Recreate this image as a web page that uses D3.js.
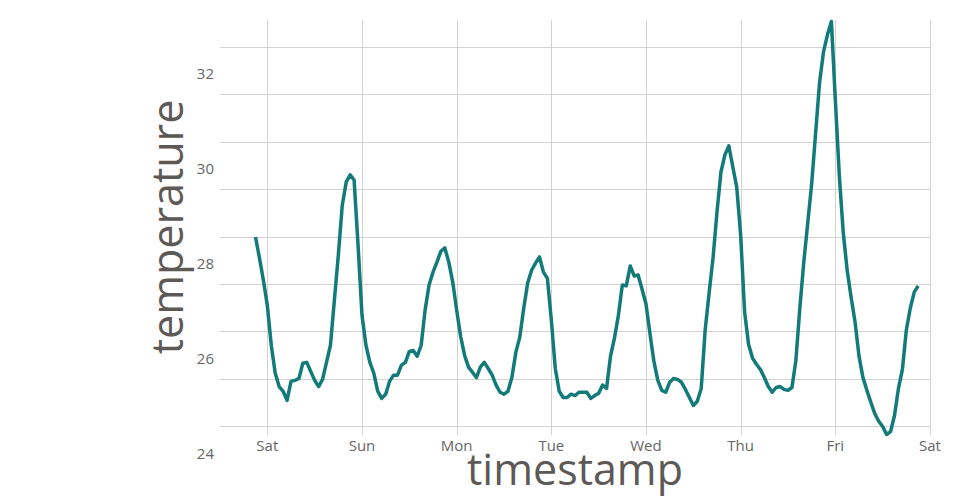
<!DOCTYPE html>
<html>
<head>
<meta charset="utf-8">
<script src="https://cdn.jsdelivr.net/npm/d3@7"></script>
<style>
  body { margin: 0; background: #fff; }
  svg { display: block; font-family: 'Open Sans', sans-serif; }
</style>
</head>
<body>
<div id="chart"></div>
<script>
// Hourly readings, first one on Friday 21:00
var startTime = new Date(2021, 0, 1, 21)
var temperature = [
  27.99, 27.55, 27.08, 26.55, 25.71, 25.12, 24.84, 24.74, 24.55, 24.95,
  24.97, 25.01, 25.33, 25.35, 25.16, 24.97, 24.84, 24.99, 25.35, 25.71,
  26.66, 27.61, 28.66, 29.15, 29.30, 29.19, 27.82, 26.34, 25.71, 25.35,
  25.12, 24.74, 24.59, 24.68, 24.95, 25.08, 25.08, 25.29, 25.35, 25.58,
  25.60, 25.48, 25.71, 26.45, 26.98, 27.25, 27.46, 27.69, 27.76, 27.46,
  27.04, 26.45, 25.90, 25.50, 25.25, 25.14, 25.03, 25.25, 25.35, 25.22,
  25.08, 24.87, 24.72, 24.68, 24.74, 25.03, 25.56, 25.88, 26.49, 27.02,
  27.29, 27.44, 27.57, 27.25, 27.12, 26.24, 25.22, 24.74, 24.61, 24.61,
  24.68, 24.65, 24.72, 24.72, 24.72, 24.59, 24.65, 24.70, 24.87, 24.80,
  25.48, 25.86, 26.34, 26.98, 26.96, 27.38, 27.17, 27.19, 26.89, 26.58,
  25.96, 25.37, 24.97, 24.76, 24.72, 24.93, 25.01, 24.99, 24.93, 24.78,
  24.61, 24.44, 24.53, 24.80, 26.03, 26.81, 27.55, 28.52, 29.36, 29.72,
  29.91, 29.47, 29.04, 28.03, 26.41, 25.73, 25.44, 25.31, 25.20, 25.03,
  24.84, 24.72, 24.82, 24.84, 24.78, 24.76, 24.82, 25.39, 26.49, 27.46,
  28.28, 29.11, 30.18, 31.24, 31.89, 32.25, 32.53, 30.88, 29.30, 28.09,
  27.29, 26.72, 26.20, 25.48, 25.03, 24.76, 24.51, 24.27, 24.11, 24.00,
  23.83, 23.89, 24.23, 24.80, 25.20, 26.03, 26.49, 26.83, 26.96
]
var gridValues = [24, 25, 26, 27, 28, 29, 30, 31, 32]
var labelValues = [24, 26, 28, 30, 32]

var width = 960
var height = 500
var plot = { left: 220, right: 930, top: 20, bottom: 435 }

var data = temperature.map(function (d, i) {
  return { time: d3.timeHour.offset(startTime, i), value: d }
})

var svg = d3.select('#chart').append('svg')
  .attr('width', width)
  .attr('height', height)

var xScale = d3.scaleTime()
  .domain([new Date(2021, 0, 1, 12), new Date(2021, 0, 9)])
  .range([plot.left, plot.right])

var yScale = d3.scaleLinear()
  .domain(d3.extent(temperature))
  .range([434.5, 21.5])

var dayTicks = d3.timeDay.range(new Date(2021, 0, 2), new Date(2021, 0, 9, 1))

// Grid lines
svg.append('g')
  .selectAll('line')
  .data(gridValues)
  .enter().append('line')
  .attr('x1', plot.left)
  .attr('x2', plot.right)
  .attr('y1', function (d) { return Math.round(yScale(d)) + 0.5 })
  .attr('y2', function (d) { return Math.round(yScale(d)) + 0.5 })
  .style('stroke', '#d3d2ce')
  .style('stroke-width', '1px')

svg.append('g')
  .selectAll('line')
  .data(dayTicks)
  .enter().append('line')
  .attr('x1', function (d) { return Math.round(xScale(d)) + 0.5 })
  .attr('x2', function (d) { return Math.round(xScale(d)) + 0.5 })
  .attr('y1', plot.top)
  .attr('y2', plot.bottom)
  .style('stroke', '#d3d2ce')
  .style('stroke-width', '1px')

// Tick labels
svg.append('g')
  .selectAll('text')
  .data(dayTicks)
  .enter().append('text')
  .attr('x', function (d) { return xScale(d) })
  .attr('y', 451)
  .attr('text-anchor', 'middle')
  .style('font-size', '15px')
  .style('fill', '#666')
  .text(d3.timeFormat('%a'))

svg.append('g')
  .selectAll('text')
  .data(labelValues)
  .enter().append('text')
  .attr('x', 214)
  .attr('y', function (d) { return yScale(d) + 27 })
  .attr('dy', '.35em')
  .attr('text-anchor', 'end')
  .style('font-size', '15px')
  .style('fill', '#666')
  .text(function (d) { return d })

// Temperature line
var line = d3.line()
  .x(function (d) { return xScale(d.time) })
  .y(function (d) { return yScale(d.value) })

svg.append('path')
  .datum(data)
  .attr('d', line)
  .style('fill', 'none')
  .style('stroke', '#137a7a')
  .style('stroke-width', '3.5px')
  .style('stroke-linejoin', 'round')

// Axis titles
svg.append('text')
  .attr('x', 575)
  .attr('y', 485)
  .attr('text-anchor', 'middle')
  .style('font-size', '43px')
  .style('fill', '#5d5956')
  .text('timestamp')

svg.append('text')
  .attr('transform', 'translate(183,227) rotate(-90)')
  .attr('text-anchor', 'middle')
  .style('font-size', '43px')
  .style('fill', '#5d5956')
  .text('temperature')
</script>
</body>
</html>
